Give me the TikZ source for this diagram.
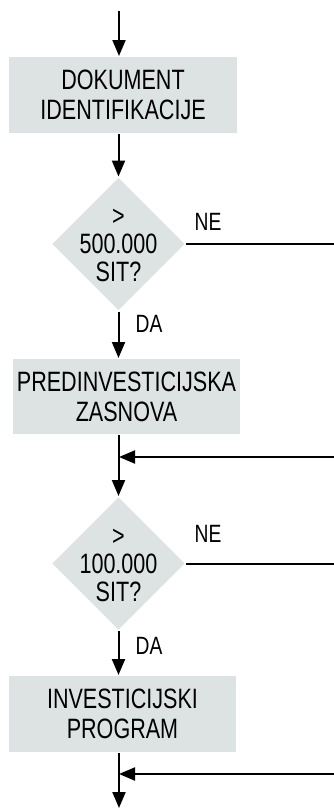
\documentclass[tikz,border=0pt]{standalone}
\usepackage{fontspec}
\setmainfont{Liberation Sans}[FakeStretch=0.77]
\usetikzlibrary{shapes.geometric,arrows.meta}
\definecolor{boxgray}{RGB}{221,227,227}

\begin{document}
\begin{tikzpicture}[x = 1pt, y = -1pt, line width = 2pt,
                    >={Triangle[length=16pt, width=13pt]},
                    stepbox/.style = {rectangle, fill = boxgray, minimum width = 228pt, minimum height = 76pt,
                                      inner sep = 0pt, align = center, font = \fontsize{28}{30}\selectfont},
                    decision/.style = {diamond, fill = boxgray, minimum width = 133pt, minimum height = 133pt, inner sep = 0pt},
                    question/.style = {align = center, inner sep = 0pt, font = \fontsize{28}{28}\selectfont},
                    answer/.style = {inner sep = 0pt, font = \fontsize{25}{25}\selectfont}]

\useasboundingbox (0,0) rectangle (334,809);

% steps
\node [stepbox] (dok) at (123,95) {DOKUMENT\\IDENTIFIKACIJE};
\node [stepbox, minimum width = 227pt, minimum height = 75pt] (pre) at (126.5,396.5) {PREDINVESTICIJSKA\\ZASNOVA};
\node [stepbox, minimum width = 227pt] (inv) at (122.5,714) {INVESTICIJSKI\\PROGRAM};

% decisions
\node [decision] (d1) at (118.5,244) {};
\node [question] (q1) at (118.5,245.5) {>\\500.000\\SIT?};
\node [decision] (d2) at (118.5,563.5) {};
\node [question] (q2) at (118.5,565) {>\\100.000\\SIT?};

% answers
\node [answer] (ne1) at (208,222) {NE};
\node [answer] (da1) at (149,324) {DA};
\node [answer] (ne2) at (208,534) {NE};
\node [answer] (da2) at (149,645.5) {DA};

% flow line
\coordinate (start) at (119,11);
\coordinate (m1) at (119,457);
\coordinate (m2) at (119,774);
\coordinate (stop) at (119,808);
\coordinate (r1) at (334,244);
\coordinate (r2) at (334,563.5);
\coordinate (b1) at (334,457);
\coordinate (b2) at (334,774);

\draw[->] (start) -- (start |- dok.north);
\draw[->] (dok.south -| d1.north) -- (d1.north);
\draw[->] (d1.south) -- (d1.south |- pre.north);
\draw[->] (pre.south -| d2.north) -- (d2.north);
\draw[->] (d2.south) -- (d2.south |- inv.north);
\draw[->] (inv.south -| stop) -- (stop);

% NE branches
\draw (d1.east) -- (r1);
\draw (d2.east) -- (r2);
\draw[->] (b1) -- (m1);
\draw[->] (b2) -- (m2);
\end{tikzpicture}
\end{document}
